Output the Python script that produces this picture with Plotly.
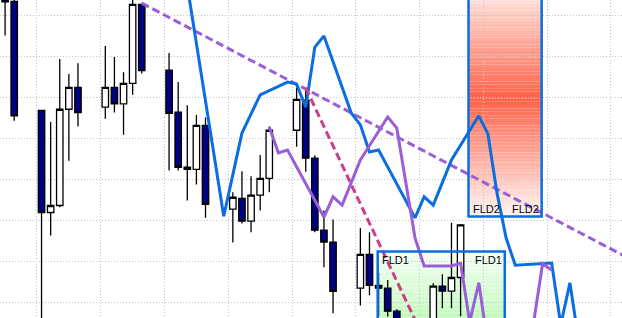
import plotly.graph_objects as go

# ---------------- data ----------------
day = [0, 1, 4, 5, 6, 7, 8, 11, 12, 13, 14, 15, 18, 19, 20, 21, 22, 25, 26, 27, 28, 29,
       32, 33, 34, 35, 36, 39, 40, 41, 42, 43, 46, 47, 48, 49, 50]
open_ = [179.7, 173.3, 146.8, 122.0, 123.7, 147.1, 152.4, 147.6, 152.4, 148.4, 153.4, 172.6,
         156.6, 146.4, 133.0, 132.5, 143.2, 122.8, 125.4, 119.9, 126.2, 130.3,
         142.0, 149.3, 135.2, 117.7, 114.8, 103.6, 111.8, 104.3, 103.6, 98.0,
         92.5, 94.0, 104.1, 102.9, 106.2]
high = [180.9, 174.9, 147.0, 144.0, 159.3, 155.7, 158.3, 162.5, 159.8, 156.1, 174.1, 172.9,
        160.8, 153.7, 148.1, 145.7, 145.1, 126.9, 132.0, 130.8, 136.0, 142.9,
        152.4, 152.3, 135.9, 122.5, 120.3, 118.2, 117.2, 107.3, 105.6, 98.5,
        95.5, 104.8, 107.0, 119.5, 119.2]
low = [165.0, 144.3, 96.0, 116.4, 123.3, 134.6, 142.9, 144.8, 146.3, 140.9, 150.6, 155.8,
       132.2, 132.2, 124.9, 128.8, 120.7, 114.7, 119.3, 117.2, 122.5, 126.9,
       138.0, 131.9, 117.2, 108.7, 97.5, 99.4, 101.9, 96.8, 96.7, 91.0,
       90.0, 93.0, 98.7, 98.7, 96.8]
close = [173.2, 145.5, 122.0, 123.7, 147.1, 152.4, 146.3, 152.4, 148.4, 153.4, 172.6, 156.5,
         146.1, 133.0, 132.5, 143.2, 124.0, 125.7, 119.9, 126.2, 130.3, 142.0,
         149.5, 135.2, 117.7, 114.8, 102.8, 111.8, 104.3, 103.6, 98.0, 93.4,
         94.0, 104.1, 102.9, 106.2, 119.0]

fld2_x = [20, 24, 26, 28, 31, 32, 33, 34, 35, 38, 39, 40, 41, 45, 46, 47, 49, 52, 53, 54,
          55, 56, 60, 61, 62, 63]
fld2_y = [177.1, 121.1, 141.3, 150.6, 153.7, 153.2, 147.6, 162.2, 164.9, 146.2, 143.3, 136.7,
          137.2, 120.7, 125.8, 123.8, 134.8, 145.5, 141.1, 126.7, 115.8, 109.2, 109.7, 94.7,
          104.9, 90.3]

fld1_x = [29, 30, 31, 35, 36, 37, 39, 42, 43, 44, 45, 46, 49, 50, 51, 52, 53, 54, 55, 56,
          57, 58, 59, 60]
fld1_y = [142.8, 136.5, 137.2, 120.9, 125.8, 123.8, 134.8, 145.2, 142.5, 128.7, 115.8, 109.0,
          109.0, 109.7, 95.4, 104.9, 89.8, 92.0, 90.5, 91.5, 93.0, 95.0, 109.5, 108.0]

trend_long_x = [15, 68]
trend_long_y = [172.9, 111.4]
trend_steep_x = [33, 46]
trend_steep_y = [152.3, 91.2]

box_labels = ["FLD1", "FLD2"]
box_x0 = [40.9, 50.87]
box_x1 = [54.85, 58.9]
box_y0 = [90.0, 121.0]
box_y1 = [112.5, 178.5]

# ---------------- styles ----------------
BLUE = "#0a6ee0"
PURPLE = "#9a5fd8"
PINK = "#cc3d8a"
GRID = "#c4c4c4"

fig = go.Figure()

# gradient fills of the FLD boxes (drawn below gridlines)
shapes = []
N = 70
gx0, gx1, gy0, gy1 = box_x0[0], box_x1[0], box_y0[0], box_y1[0]
top_c = (244, 255, 244)
bot_c = (172, 247, 162)
for i in range(N):
    ya = gy1 - (gy1 - gy0) * i / N
    yb = gy1 - (gy1 - gy0) * (i + 1) / N
    t = (i + 0.5) / N
    c = tuple(int(round(top_c[k] + (bot_c[k] - top_c[k]) * t)) for k in range(3))
    shapes.append(dict(type="rect", xref="x", yref="y", x0=gx0, x1=gx1, y0=yb, y1=ya,
                       fillcolor="rgb(%d,%d,%d)" % c, line=dict(width=0), layer="below"))
rx0, rx1, ry0, ry1 = box_x0[1], box_x1[1], box_y0[1], box_y1[1]
edge_c = (255, 248, 245)
peak_c = (255, 97, 72)
for i in range(N):
    ya = ry0 + (ry1 - ry0) * i / N
    yb = ry0 + (ry1 - ry0) * (i + 1) / N
    m = (i + 0.5) / N
    t = abs(m - 0.5) / 0.5
    c = tuple(int(round(peak_c[k] + (edge_c[k] - peak_c[k]) * t)) for k in range(3))
    shapes.append(dict(type="rect", xref="x", yref="y", x0=rx0, x1=rx1, y0=ya, y1=yb,
                       fillcolor="rgb(%d,%d,%d)" % c, line=dict(width=0), layer="below"))
for j in range(2):
    shapes.append(dict(type="rect", xref="x", yref="y", x0=box_x0[j], x1=box_x1[j],
                       y0=box_y0[j], y1=box_y1[j], fillcolor="rgba(0,0,0,0)",
                       line=dict(color=BLUE, width=2.5), layer="above"))

fig.add_trace(go.Candlestick(
    x=day, open=open_, high=high, low=low, close=close,
    increasing=dict(fillcolor="white", line=dict(color="black", width=1.3)),
    decreasing=dict(fillcolor="#000080", line=dict(color="black", width=1.3)),
    whiskerwidth=0, showlegend=False, hoverinfo="skip"))

fig.add_trace(go.Scatter(x=trend_long_x, y=trend_long_y, mode="lines",
                         line=dict(color=PURPLE, width=3, dash="8px,4px"),
                         showlegend=False, hoverinfo="skip"))
fig.add_trace(go.Scatter(x=fld2_x, y=fld2_y, mode="lines",
                         line=dict(color=BLUE, width=3), showlegend=False, hoverinfo="skip"))
fig.add_trace(go.Scatter(x=trend_steep_x, y=trend_steep_y, mode="lines",
                         line=dict(color=PINK, width=3, dash="8px,4px"),
                         showlegend=False, hoverinfo="skip"))
fig.add_trace(go.Scatter(x=fld1_x, y=fld1_y, mode="lines",
                         line=dict(color=PURPLE, width=3), showlegend=False, hoverinfo="skip"))

annotations = []
lab_font = dict(family="Liberation Sans, Arial", size=11, color="black")
for j, name in enumerate(box_labels):
    yy = box_y1[j] if j == 0 else box_y0[j]
    ya = "top" if j == 0 else "bottom"
    annotations.append(dict(x=box_x0[j], y=yy, xref="x", yref="y", text=name, showarrow=False,
                            xanchor="left", yanchor=ya, xshift=2, font=lab_font))
    annotations.append(dict(x=box_x1[j], y=yy, xref="x", yref="y", text=name, showarrow=False,
                            xanchor="right", yanchor=ya, xshift=-1, font=lab_font))

fig.update_layout(
    width=622, height=318, margin=dict(l=0, r=0, t=0, b=0),
    paper_bgcolor="white", plot_bgcolor="white",
    boxgap=0.2, boxgroupgap=0.12,
    shapes=shapes, annotations=annotations, showlegend=False,
    xaxis=dict(range=[-0.56, 67.72], tick0=3.5, dtick=7, showticklabels=False,
               showgrid=True, gridcolor=GRID, gridwidth=1, griddash="1px,2px",
               zeroline=False, showline=False, ticks="", rangeslider=dict(visible=False),
               fixedrange=True),
    yaxis=dict(range=[96.35, 173.66], tick0=100, dtick=10, showticklabels=False,
               showgrid=True, gridcolor=GRID, gridwidth=1, griddash="1px,2px",
               zeroline=False, showline=False, ticks="", fixedrange=True),
)

fig.write_html("out.html", config={"displayModeBar": False})
